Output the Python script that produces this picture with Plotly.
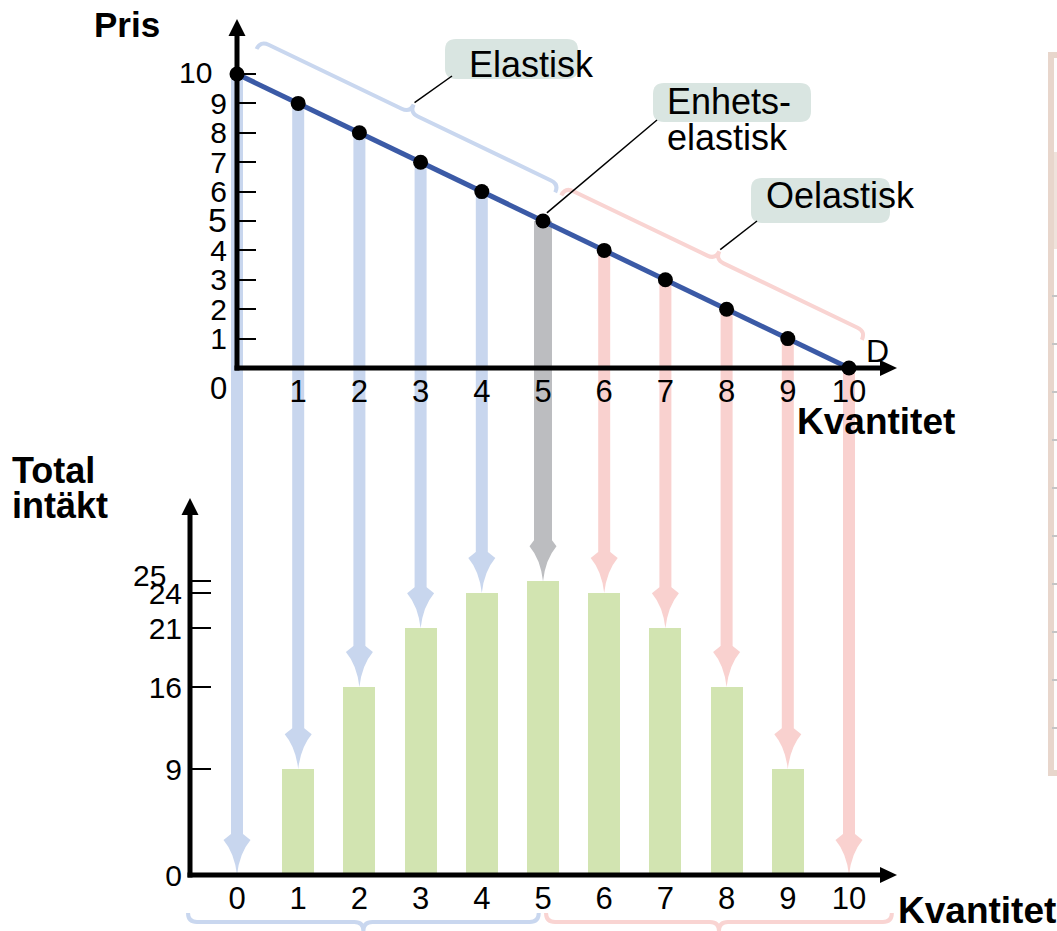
import numpy as np
import plotly.graph_objects as go

# ---------------- data ----------------
QUANTITY = [0, 1, 2, 3, 4, 5, 6, 7, 8, 9, 10]
PRICE = [10, 9, 8, 7, 6, 5, 4, 3, 2, 1, 0]
REVENUE = [0, 9, 16, 21, 24, 25, 24, 21, 16, 9, 0]

PRICE_TICKS = [1, 2, 3, 4, 5, 6, 7, 8, 9, 10]
PRICE_TICK_LABELS = ["1", "2", "3", "4", "<span style='font-size:34px'>5</span>", "6", "7", "8", "9", ""]
QTY_TOP_TICKS = [1, 2, 3, 4, 5, 6, 7, 8, 9, 10]
QTY_TOP_LABELS = ["1", "2", "3", "4", "5", "6", "7", "8", "9", "10"]
QTY_BOT_TICKS = [0, 1, 2, 3, 4, 5, 6, 7, 8, 9, 10]
QTY_BOT_LABELS = ["0", "1", "2", "3", "4", "5", "6", "7", "8", "9", "10"]
REVENUE_TICKS = [0, 9, 16, 21, 24, 25]
REVENUE_TICK_LABELS = ["0", "9", "16", "21", "24", ""]

UNIT_ELASTIC_Q = 5          # quantity where elasticity is unit
ELASTIC_SPAN = (0.1, 4.98)  # brace extents along the demand curve
INELASTIC_SPAN = (5.08, 9.99)
BOTTOM_ELASTIC_SPAN = (-0.8, 4.93)
BOTTOM_INELASTIC_SPAN = (5.05, 10.7)

# ---------------- geometry / style ----------------
W, H = 1057, 931
FONT = "Liberation Sans, Arial, sans-serif"
X0_PX, PX_Q = 237.0, 61.2        # quantity 0 pixel, px per unit
P0_PX, PX_P = 368.0, 29.4        # price 0 pixel, px per unit
R0_PX, PX_R = 875.0, 11.75       # revenue 0 pixel, px per unit
SPLIT_PX = 460.0
BOT_YAXIS_PX = 190.0

C_BLUE = "#c8d6ee"
C_GRAY = "#bcbdc0"
C_PINK = "#f9d1cf"
C_BAR = "#d2e4b1"
C_DEMAND = "#3b5aa6"
C_BOX = "#d9e5e1"
C_BRACE_BLUE = "#c9d7ef"
C_BRACE_PINK = "#f9d4d2"

x_range = [(0 - X0_PX) / PX_Q, (W - X0_PX) / PX_Q]
y_range = [(P0_PX - SPLIT_PX) / PX_P, P0_PX / PX_P]
y2_range = [(R0_PX - H) / PX_R, (R0_PX - SPLIT_PX) / PX_R]
split = 1 - SPLIT_PX / H


def px(x):
    return x / W


def py(y):
    return 1 - y / H


def to_top(xp, yp):
    return (xp - X0_PX) / PX_Q, (P0_PX - yp) / PX_P


def to_bot(xp, yp):
    return (xp - X0_PX) / PX_Q, (R0_PX - yp) / PX_R


def qpx(q):
    return X0_PX + q * PX_Q


def line_px(q):
    return np.array([qpx(q), P0_PX - np.interp(q, QUANTITY, PRICE) * PX_P])


def brace_points(S, E, n, hook=9.0, r=9.0, cusp=9.0):
    S = np.array(S, float)
    E = np.array(E, float)
    n = np.array(n, float)
    L = np.linalg.norm(E - S)
    u = (E - S) / L
    mid = S + u * L / 2
    pts = [
        ("M", [S - n * hook]),
        ("Q", [S, S + u * r]),
        ("L", [mid - u * r]),
        ("Q", [mid, mid + n * cusp]),
        ("Q", [mid, mid + u * r]),
        ("L", [E - u * r]),
        ("Q", [E, E - n * hook]),
    ]
    return pts, mid + n * cusp


def path_from(pts, conv):
    out = []
    for cmd, ps in pts:
        coords = []
        for p in ps:
            a, b = conv(p[0], p[1])
            coords.append(f"{a:.4f},{b:.4f}")
        out.append(cmd + " ".join(coords))
    return " ".join(out)


shapes = []

# ---------- arrow shafts + heads ----------
for q, p, r in zip(QUANTITY, PRICE, REVENUE):
    if q < UNIT_ELASTIC_Q:
        col, w = C_BLUE, 12
    elif q == UNIT_ELASTIC_Q:
        col, w = C_GRAY, 18
    else:
        col, w = C_PINK, 12
    shapes.append(dict(type="line", xref="x", yref="y", x0=q, x1=q, y0=p, y1=y_range[0],
                       line=dict(color=col, width=w), layer="below"))
    shapes.append(dict(type="line", xref="x2", yref="y2", ysizemode="pixel", yanchor=r,
                       x0=q, x1=q, y0=38, y1=2000, line=dict(color=col, width=w), layer="below"))
    hw = w / 2
    shapes.append(dict(type="path", xref="x2", yref="y2", xsizemode="pixel", ysizemode="pixel",
                       xanchor=q, yanchor=r,
                       path=(f"M0,0 Q2.5,22 13.5,35 L{hw},41 L{-hw},41 "
                             f"L-13.5,35 Q-2.5,22 0,0 Z"),
                       fillcolor=col, line=dict(width=0), layer="below"))

# ---------- braces ----------
u_dem = line_px(10) - line_px(0)
u_dem = u_dem / np.linalg.norm(u_dem)
n_dem = np.array([u_dem[1], -u_dem[0]])
OFF = 40.0
leader_starts = []
for (qa, qb), col in [(ELASTIC_SPAN, C_BRACE_BLUE), (INELASTIC_SPAN, C_BRACE_PINK)]:
    S = line_px(qa) + n_dem * OFF
    E = line_px(qb) + n_dem * OFF
    pts, tip = brace_points(S, E, n_dem)
    leader_starts.append(tip)
    shapes.append(dict(type="path", xref="x", yref="y", path=path_from(pts, to_top),
                       line=dict(color=col, width=4), layer="below"))

for (qa, qb), col in [(BOTTOM_ELASTIC_SPAN, C_BRACE_BLUE), (BOTTOM_INELASTIC_SPAN, C_BRACE_PINK)]:
    S = (qpx(qa), 922)
    E = (qpx(qb), 922)
    pts, _ = brace_points(S, E, (0, 1))
    shapes.append(dict(type="path", xref="x2", yref="y2", path=path_from(pts, to_bot),
                       line=dict(color=col, width=4), layer="below"))

# ---------- axis lines with arrow heads ----------
AX_W = 5
half_q = (AX_W / 2) / PX_Q
half_p = (AX_W / 2) / PX_P
half_r = (AX_W / 2) / PX_R
TOP_Y_TIP = to_top(0, 19)[1]
X_TIP = to_top(897, 0)[0]
BOT_Y_TIP = to_bot(0, 498)[1]
BOT_YAXIS_Q = to_bot(BOT_YAXIS_PX, 0)[0]
HEAD_BACK = 12

axis_lines = [
    ("x", "y", 0, -half_p, 0, TOP_Y_TIP - HEAD_BACK / PX_P),
    ("x", "y", -half_q, 0, X_TIP - HEAD_BACK / PX_Q, 0),
    ("x2", "y2", BOT_YAXIS_Q, -half_r, BOT_YAXIS_Q, BOT_Y_TIP - HEAD_BACK / PX_R),
    ("x2", "y2", BOT_YAXIS_Q - half_q, 0, X_TIP - HEAD_BACK / PX_Q, 0),
]
for xr, yr, xa, ya, xb, yb in axis_lines:
    shapes.append(dict(type="line", xref=xr, yref=yr, x0=xa, y0=ya, x1=xb, y1=yb,
                       line=dict(color="black", width=AX_W), layer="above"))

UP_HEAD = "M0,0 L-8.5,-17 L8.5,-17 Z"
RIGHT_HEAD = "M0,0 L-17,8 L-17,-8 Z"
for xr, yr, xa, ya, pth in [("x", "y", 0, TOP_Y_TIP, UP_HEAD), ("x", "y", X_TIP, 0, RIGHT_HEAD),
                            ("x2", "y2", BOT_YAXIS_Q, BOT_Y_TIP, UP_HEAD), ("x2", "y2", X_TIP, 0, RIGHT_HEAD)]:
    shapes.append(dict(type="path", xref=xr, yref=yr, xsizemode="pixel", ysizemode="pixel",
                       xanchor=xa, yanchor=ya, path=pth, fillcolor="black", line=dict(width=0),
                       layer="above"))


# ---------- label boxes ----------
def rrect(x0, y0, x1, y1, rad=11):
    X0, X1 = px(x0), px(x1)
    Y0, Y1 = py(y0), py(y1)
    rx, ry = rad / W, rad / H
    return (f"M{X0 + rx},{Y0} L{X1 - rx},{Y0} Q{X1},{Y0} {X1},{Y0 - ry} "
            f"L{X1},{Y1 + ry} Q{X1},{Y1} {X1 - rx},{Y1} L{X0 + rx},{Y1} "
            f"Q{X0},{Y1} {X0},{Y1 + ry} L{X0},{Y0 - ry} Q{X0},{Y0} {X0 + rx},{Y0} Z")


BOXES = [(445, 39, 578, 79), (653, 83, 811, 122), (751, 178, 890, 223)]
for b in BOXES:
    shapes.append(dict(type="path", xref="paper", yref="paper", path=rrect(*b),
                       fillcolor=C_BOX, line=dict(width=0), layer="below"))

# leader lines
cusp_unit = line_px(UNIT_ELASTIC_Q) + n_dem * 9
LEADERS = [
    (leader_starts[0] + n_dem * 2, (452, 76)),
    (cusp_unit, (657, 120)),
    (leader_starts[1] + n_dem * 2, (757, 221)),
]
for (a, b) in LEADERS:
    shapes.append(dict(type="line", xref="paper", yref="paper", x0=px(a[0]), y0=py(a[1]),
                       x1=px(b[0]), y1=py(b[1]), line=dict(color="black", width=1.5)))

# ---------- right-side panel remnant ----------
shapes.append(dict(type="rect", xref="paper", yref="paper", x0=px(1051), x1=px(1080),
                   y0=py(55), y1=py(773), fillcolor="#fefdfd", line=dict(color="#e8d6cc", width=6),
                   layer="below"))
shapes.append(dict(type="rect", xref="paper", yref="paper", x0=px(1054), x1=px(1060),
                   y0=py(152), y1=py(249), fillcolor="#efe3dc", line=dict(width=0), layer="below"))
for yy in [296, 344, 392, 440, 488, 536, 584, 632, 680, 728]:
    shapes.append(dict(type="line", xref="paper", yref="paper", x0=px(1052), x1=px(1058),
                       y0=py(yy), y1=py(yy), line=dict(color="#c4c4c4", width=2), layer="below"))

# ---------- traces ----------
fig = go.Figure()
fig.add_trace(go.Bar(x=QUANTITY[1:-1], y=REVENUE[1:-1], xaxis="x2", yaxis="y2", width=0.52,
                     marker=dict(color=C_BAR, line=dict(width=0)), showlegend=False, hoverinfo="skip"))
fig.add_trace(go.Scatter(x=QUANTITY, y=PRICE, xaxis="x", yaxis="y", mode="lines+markers",
                         line=dict(color=C_DEMAND, width=5),
                         marker=dict(color="black", size=15), showlegend=False, hoverinfo="skip"))


# ---------- annotations ----------
def ann(text, x, y, size, xanchor="center", yanchor="middle", bold=False):
    if bold:
        text = f"<b>{text}</b>"
    return dict(text=text, x=px(x), y=py(y), xref="paper", yref="paper", showarrow=False,
                xanchor=xanchor, yanchor=yanchor, font=dict(size=size, family=FONT, color="black"))


annotations = [
    ann("Pris", 127, 24, 35, bold=True),
    ann("Kvantitet", 876, 421, 37, bold=True),
    ann("Kvantitet", 896, 910, 37, xanchor="left", bold=True),
    ann("Total", 10, 470, 36, xanchor="left", bold=True),
    ann("intäkt", 10, 505, 36, xanchor="left", bold=True),
    ann("D", 877, 351, 32),
    ann("0", 218, 388, 31),
    ann("10", 214, 73, 30, xanchor="right"),
    ann("25", 149, 575, 30),
    ann("Elastisk", 467, 64, 36, xanchor="left"),
    ann("Enhets-", 665, 102, 36, xanchor="left"),
    ann("elastisk", 665, 137, 36, xanchor="left"),
    ann("Oelastisk", 764, 195, 36, xanchor="left"),
]

xtickfont = dict(size=31, family=FONT, color="black")
ytickfont = dict(size=30, family=FONT, color="black")
common = dict(showgrid=False, zeroline=False, showline=False, automargin=False, fixedrange=True)

fig.update_layout(
    width=W, height=H, template="none",
    margin=dict(l=0, r=0, t=0, b=0),
    paper_bgcolor="white", plot_bgcolor="white",
    showlegend=False, bargap=0,
    xaxis=dict(domain=[0, 1], range=x_range, anchor="free", position=py(P0_PX),
               tickmode="array", tickvals=QTY_TOP_TICKS, ticktext=QTY_TOP_LABELS,
               ticks="", tickfont=xtickfont, ticklabelstandoff=2, **common),
    yaxis=dict(domain=[split, 1], range=y_range, anchor="free", position=px(X0_PX),
               tickmode="array", tickvals=PRICE_TICKS, ticktext=PRICE_TICK_LABELS,
               ticks="inside", ticklen=18, tickwidth=2, tickcolor="black",
               tickfont=ytickfont, ticklabelstandoff=10, **common),
    xaxis2=dict(domain=[0, 1], range=x_range, anchor="free", position=py(R0_PX),
                tickmode="array", tickvals=QTY_BOT_TICKS, ticktext=QTY_BOT_LABELS,
                ticks="", tickfont=xtickfont, ticklabelstandoff=2, **common),
    yaxis2=dict(domain=[0, split], range=y2_range, anchor="free", position=px(BOT_YAXIS_PX),
                tickmode="array", tickvals=REVENUE_TICKS, ticktext=REVENUE_TICK_LABELS,
                ticks="inside", ticklen=20, tickwidth=2, tickcolor="black",
                tickfont=ytickfont, ticklabelstandoff=8, **common),
    shapes=shapes,
    annotations=annotations,
)

fig.write_html("out.html")
